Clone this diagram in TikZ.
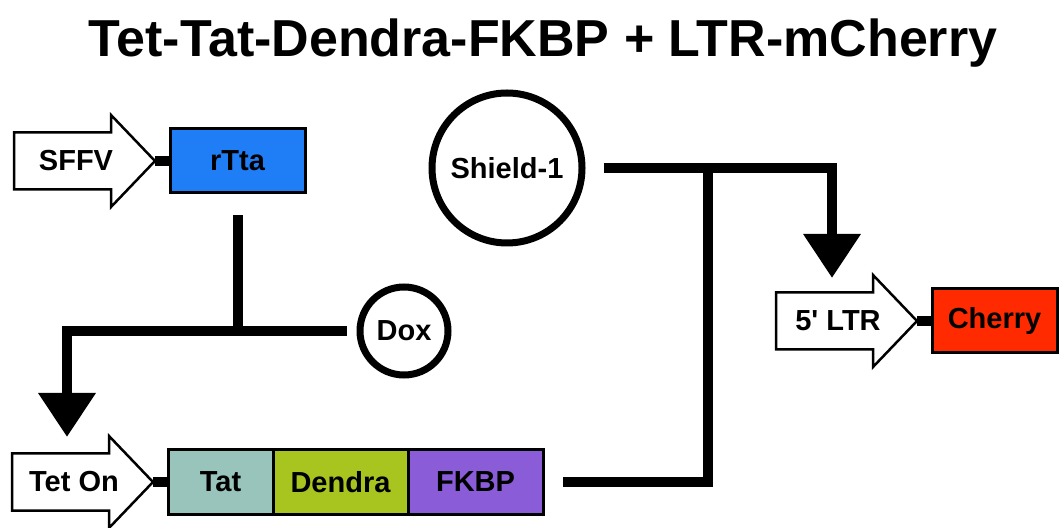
\documentclass[tikz,border=0pt]{standalone}
\usepackage{fontspec}
\setsansfont{Liberation Sans}
\usetikzlibrary{positioning,arrows.meta}
\definecolor{rttablue}{HTML}{1F7DF5}
\definecolor{tatgrey}{HTML}{98C4BC}
\definecolor{dendragreen}{HTML}{A8C41E}
\definecolor{fkbppurple}{HTML}{8A5CD8}
\definecolor{cherryred}{HTML}{FF2A00}
\tikzset{
  lbl/.style={font=\sffamily\bfseries\fontsize{29}{29}\selectfont, inner sep=0pt},
  prom/.style={draw, line width=2.5pt, fill=white},
  gene/.style={lbl, draw, line width=3pt, outer sep=0pt, minimum height=64pt},
  drug/.style={lbl, circle, draw, line width=7pt},
  link/.style={line width=10pt},
  hit/.style={link, -{Triangle[width=55pt,length=44pt]}}
}
% promoter arrow: name, tip x, tip y, label
\newcommand\promoter[4]{%
  \draw[prom] (#2-141,#3-28.5) -- (#2-44,#3-28.5) -- (#2-44,#3-46) -- (#2,#3)
    -- (#2-44,#3+46) -- (#2-44,#3+28.5) -- (#2-141,#3+28.5) -- cycle;
  \fill (#2,#3-5) rectangle (#2+15,#3+5);
  \node[lbl] (#1) at (#2-79,#3) {#4};
}
\begin{document}
\begin{tikzpicture}[x=1pt,y=1pt]
\useasboundingbox (0,0) rectangle (1059,527);
\node[font=\sffamily\bfseries\fontsize{52}{52}\selectfont, inner sep=0pt, anchor=base] (title) at (543,470) {Tet-Tat-Dendra-FKBP + LTR-mCherry};

% SFFV - rTta
\promoter{sffv}{155}{366}{SFFV}
\node[gene, fill=rttablue, minimum width=135pt, anchor=west] (rtta) at (170,366) {rTta};

% Tet On - Tat-Dendra-FKBP
\promoter{teton}{153}{45}{Tet On}
\node[gene, fill=tatgrey, minimum width=105pt, anchor=west] (tat) at (168,45) {Tat};
\node[gene, fill=dendragreen, minimum width=135pt, right=0pt of tat] (dendra) {Dendra};
\node[gene, fill=fkbppurple, minimum width=135pt, right=0pt of dendra] (fkbp) {FKBP};

% 5' LTR - Cherry
\promoter{ltr}{917}{206}{5\textquotesingle{} LTR}
\node[gene, fill=cherryred, minimum width=125pt, anchor=west] (cherry) at (932,206) {Cherry};

% drugs
\node[drug, minimum size=150pt] (shield) at (507,359) {Shield-1};
\node[drug, minimum size=88pt] (dox) at (404,196) {Dox};

\coordinate (tetin) at (67,90);
\coordinate (ltrin) at (832,249);
\coordinate (merge) at (708,360);

\draw[link] ([yshift=-22pt]rtta.south) -- (rtta.south |- dox.west);
\draw[hit] ([xshift=-10pt]dox.west) -| (tetin);
\draw[hit] ([xshift=18pt]shield.east) -| (ltrin);
\draw[link] ([xshift=20pt]fkbp.east) -| (merge);
\end{tikzpicture}
\end{document}
